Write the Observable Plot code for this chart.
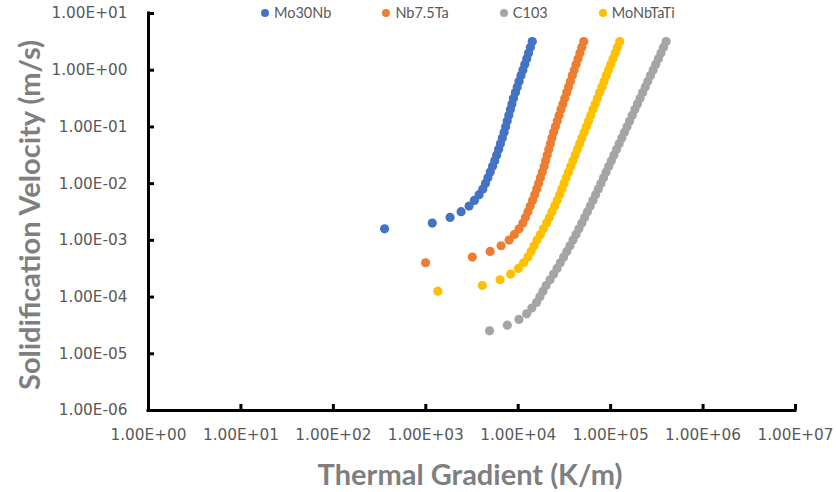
<!DOCTYPE html>
<html><head><meta charset="utf-8">
<script src="https://cdn.jsdelivr.net/npm/d3@7"></script>
<script src="https://cdn.jsdelivr.net/npm/@observablehq/plot@0.6"></script>
<style>
body{margin:0;background:#fff;}
#wrap{position:relative;width:836px;height:492px;}
#legend{position:absolute;left:261px;top:3px;display:flex;gap:51px;font-family:Lato,sans-serif;font-size:14.5px;color:#595959;line-height:20px;}
.item{display:flex;align-items:center;gap:5px;}
.sw{width:8px;height:8px;border-radius:50%;display:inline-block;}
</style></head><body><div id="wrap"><div id="legend"></div></div>
<script>
const seriesNames = ["Mo30Nb", "Nb7.5Ta", "C103", "MoNbTaTi"];
const seriesColors = ["#4472C4", "#ED7D31", "#A5A5A5", "#FFC000"];

// Solidification velocity levels (m/s), shared by every series, top to bottom
const velocity = [3.2, 2.54, 2.02, 1.6, 1.27, 1.01, 0.804, 0.639, 0.507, 0.403,
  0.32, 0.254, 0.202, 0.16, 0.127, 0.101, 0.0804, 0.0639, 0.0507, 0.0403,
  0.032, 0.0254, 0.0202, 0.016, 0.0127, 0.0101, 0.00804, 0.00639, 0.00507, 0.00403,
  0.0032, 0.00254, 0.00202, 0.0016, 0.00127, 0.00101, 0.000804, 0.000639, 0.000507, 0.000403,
  0.00032, 0.000254, 0.000202, 0.00016, 0.000127, 0.000101, 0.0000804, 0.0000639, 0.0000507, 0.0000403,
  0.000032, 0.0000254];

// Thermal gradient (K/m) for each velocity level
const gradMo30Nb = [14200, 13550, 12930, 12360, 11790, 11240, 10720, 10220, 9750, 9330,
  8890, 8550, 8230, 7910, 7600, 7310, 7040, 6730, 6420, 6140,
  5850, 5570, 5280, 4980, 4700, 4420, 4140, 3775, 3360, 2940,
  2410, 1830, 1176, 358];
const gradNb75Ta = [51150, 48790, 46530, 44380, 42320, 40370, 38500, 36720, 35020, 33480,
  31930, 30460, 29050, 27710, 26430, 25270, 24100, 23160, 22310, 21440,
  20600, 19790, 19070, 18230, 17390, 16630, 15860, 15090, 14310, 13490,
  12740, 11970, 11220, 10230, 9100, 7970, 6530, 4970, 3190, 995];
const gradC103 = [398700, 373700, 350200, 328200, 307700, 288400, 270300, 252700, 236900, 222000,
  208100, 195000, 182800, 171300, 160600, 150500, 141100, 132200, 123600, 115900,
  108600, 101800, 95370, 89390, 83790, 78520, 73600, 68820, 64330, 60160,
  56090, 52310, 48790, 45400, 42220, 39180, 36260, 33570, 30990, 28550,
  26300, 24160, 22090, 20040, 18510, 17170, 15820, 14040, 12330, 10180,
  7620, 4900];
const gradMoNbTaTi = [125200, 118500, 112100, 105900, 100300, 94900, 89840, 85050, 80500, 76030,
  71970, 68130, 64330, 60900, 57650, 54580, 51660, 48910, 46180, 43720,
  41390, 39080, 37000, 34930, 33070, 31300, 29640, 28060, 26430, 24770,
  23220, 21710, 20250, 18740, 17390, 16010, 14860, 13790, 12740, 11440,
  10030, 8275, 6370, 4090, 1352];

const xTicks = [1, 10, 100, 1000, 10000, 100000, 1000000, 10000000];
const xTickLabels = ["1.00E+00", "1.00E+01", "1.00E+02", "1.00E+03", "1.00E+04", "1.00E+05", "1.00E+06", "1.00E+07"];
const yTicks = [1e-6, 1e-5, 1e-4, 1e-3, 1e-2, 1e-1, 1, 10];
const yTickLabels = ["1.00E-06", "1.00E-05", "1.00E-04", "1.00E-03", "1.00E-02", "1.00E-01", "1.00E+00", "1.00E+01"];

const xTitle = "Thermal Gradient (K/m)";
const yTitle = "Solidification Velocity (m/s)";

const gradients = [gradMo30Nb, gradNb75Ta, gradC103, gradMoNbTaTi];
const rows = seriesNames.flatMap((name, s) =>
  gradients[s].map((g, i) => ({series: name, G: g, V: velocity[i]})));

const chart = Plot.plot({
  width: 836,
  height: 492,
  marginLeft: 148,
  marginRight: 41,
  marginTop: 13,
  marginBottom: 82,
  style: {fontFamily: "'DejaVu Sans', sans-serif", background: "white", color: "#595959", overflow: "visible"},
  x: {type: "log", domain: [1, 1e7]},
  y: {type: "log", domain: [1e-6, 10]},
  color: {domain: seriesNames, range: seriesColors},
  marks: [
    Plot.axisX({ticks: xTicks, tickFormat: d => xTickLabels[xTicks.indexOf(d)], tickSize: 0, tickPadding: 19, fontSize: 15.3, label: null}),
    Plot.axisY({ticks: yTicks, tickFormat: d => yTickLabels[yTicks.indexOf(d)], tickSize: 0, tickPadding: 21, fontSize: 15.3, label: null}),
    Plot.ruleX([1], {stroke: "black", strokeWidth: 3, strokeLinecap: "square"}),
    Plot.ruleY([1e-6], {stroke: "black", strokeWidth: 3, strokeLinecap: "square"}),
    Plot.tickX(xTicks, {x: d => d, insetTop: 391, stroke: "black", strokeWidth: 3}),
    Plot.tickY(yTicks, {y: d => d, insetRight: 641, stroke: "black", strokeWidth: 3}),
    Plot.dot(rows, {x: "G", y: "V", r: 4.6, fill: "series", stroke: "none"}),
    Plot.text([xTitle], {text: d => d, frameAnchor: "bottom", dy: 65, dx: -2, lineAnchor: "middle", textAnchor: "middle", fontFamily: "Lato", fontSize: 29, fontWeight: "bold", fill: "#7F7F7F"}),
    Plot.text([yTitle], {text: d => d, frameAnchor: "left", dx: -118, dy: 3, rotate: -90, lineAnchor: "middle", textAnchor: "middle", fontFamily: "Lato", fontSize: 29, fontWeight: "bold", fill: "#7F7F7F"})
  ]
});
document.getElementById("wrap").prepend(chart);

const legend = document.getElementById("legend");
seriesNames.forEach((name, i) => {
  const item = document.createElement("span");
  item.className = "item";
  const sw = document.createElement("span");
  sw.className = "sw";
  sw.style.background = seriesColors[i];
  item.appendChild(sw);
  item.appendChild(document.createTextNode(name));
  legend.appendChild(item);
});
</script>
</body></html>
